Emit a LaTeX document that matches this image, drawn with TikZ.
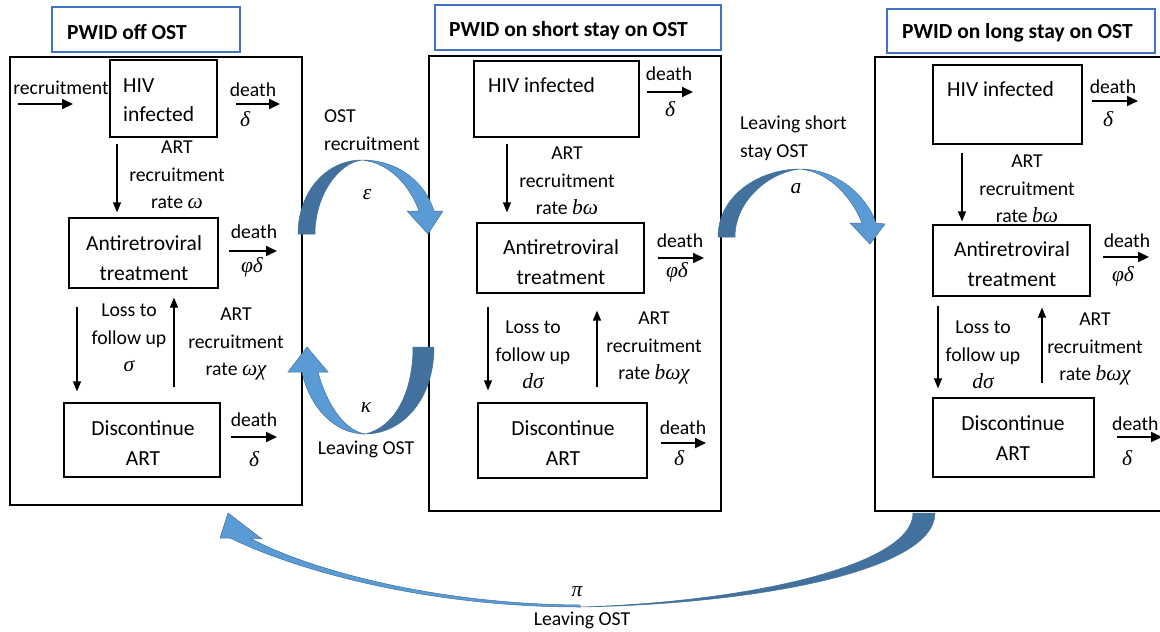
\documentclass[tikz,border=0pt]{standalone}
\usepackage{fontspec}
\setmainfont{Carlito}
\newfontfamily\grkfont{Liberation Serif}
\usetikzlibrary{arrows.meta}
\definecolor{tblue}{HTML}{4472C4}
\definecolor{bdark}{HTML}{41719C}
\definecolor{blight}{HTML}{5B9BD5}
\newcommand\lblfont{\fontsize{19.7}{27.5}\selectfont}
\newcommand\boxfont{\fontsize{21.5}{29.5}\selectfont}
\newcommand\ttlfont{\fontsize{21.5}{26}\selectfont\bfseries}
\newcommand\gk[1]{{\grkfont\itshape\fontsize{21.5}{27.5}\selectfont #1}}
\begin{document}
\begin{tikzpicture}[x=1pt,y=-1pt,
  panel/.style={draw, line width=2pt, inner sep=0pt},
  titlebox/.style={draw=tblue, line width=2.5pt, inner sep=0pt},
  cbox/.style={draw, line width=1.2pt, inner sep=0pt},
  lbl/.style={font=\lblfont, align=center, inner sep=0pt},
  boxtxt/.style={font=\boxfont, align=center, inner sep=0pt},
  ttl/.style={font=\ttlfont, inner sep=0pt, anchor=west},
  thinarr/.style={line width=1.2pt, -{Triangle[length=10pt,width=8pt]}},
  thickarr/.style={line width=2pt, -{Triangle[length=11pt,width=10pt]}},
  darkpart/.style={fill=bdark, draw=bdark, line width=0.5pt},
  lightpart/.style={fill=blight, draw=bdark, line width=0.5pt},
]
\useasboundingbox (0,0) rectangle (1160,632);

% ---------- panels and titles ----------
\node[panel, minimum width=292pt, minimum height=448pt] (p1) at (156,281) {};
\node[panel, minimum width=292pt, minimum height=455pt] (p2) at (575,283.5) {};
\node[panel, minimum width=300pt, minimum height=454pt] (p3) at (1025,284) {};
\node[titlebox, fill=white, minimum width=188pt, minimum height=45pt] (t1) at (146,29.5) {};
\node[titlebox, fill=white, minimum width=286pt, minimum height=45pt] (t2) at (578,27.5) {};
\node[titlebox, fill=white, minimum width=268pt, minimum height=44pt] (t3) at (1021,31) {};
\node[ttl] (t1t) at (67,32) {PWID off OST};
\node[ttl] (t2t) at (449,31) {PWID on short stay on OST};
\node[ttl] (t3t) at (902,33) {PWID on long stay on OST};

% ---------- panel 1 ----------
\node[cbox, minimum width=107pt, minimum height=77pt] (h1) at (163.5,98.5) {};
\node[cbox, minimum width=149pt, minimum height=70pt] (a1) at (143.5,253) {};
\node[cbox, minimum width=156pt, minimum height=74pt] (c1) at (142,440) {};
\node[boxtxt, align=left, anchor=west] (h1t) at (123,100) {HIV\\infected};
\node[boxtxt] (a1t) at (144,258) {Antiretroviral\\treatment};
\node[boxtxt] (c1t) at (143,443) {Discontinue\\ART};

\node[lbl] (rec1) at (61,88) {recruitment};
\coordinate (r1s) at (18,104); \coordinate (r1e) at (73,104);
\draw[thickarr] (r1s) -- (r1e);

\node[lbl] (dh1) at (253,90) {death};
\coordinate (dh1s) at (236,104); \coordinate (dh1e) at (280,104);
\draw[thickarr] (dh1s) -- (dh1e);
\node[lbl] (dh1r) at (245,119) {\gk{δ}};

\node[lbl] (da1) at (254,232) {death};
\coordinate (da1s) at (229,251); \coordinate (da1e) at (277,251);
\draw[thickarr] (da1s) -- (da1e);
\node[lbl] (da1r) at (252,267) {\gk{φδ}};

\node[lbl] (dc1) at (254,420) {death};
\coordinate (dc1s) at (231,437); \coordinate (dc1e) at (277,437);
\draw[thickarr] (dc1s) -- (dc1e);
\node[lbl] (dc1r) at (254,459) {\gk{δ}};

\coordinate (x1a) at (117,0); \coordinate (x1b) at (77,0); \coordinate (x1c) at (174,0);
\draw[thinarr, shorten <=6pt, shorten >=5pt] (h1.south -| x1a) -- (a1.north -| x1a);
\draw[thinarr, shorten <=18pt, shorten >=11pt] (a1.south -| x1b) -- (c1.north -| x1b);
\draw[thinarr, shorten <=15pt, shorten >=9pt] (c1.north -| x1c) -- (a1.south -| x1c);
\node[lbl] (art1) at (177,175) {ART\\recruitment\\rate \gk{ω}};
\node[lbl] (loss1) at (129,338) {Loss to\\follow up\\\gk{σ}};
\node[lbl] (art1b) at (236,344) {ART\\recruitment\\rate \gk{ωχ}};

% ---------- panel 2 ----------
\node[cbox, minimum width=165pt, minimum height=76pt] (h2) at (556.5,99) {};
\node[cbox, minimum width=167pt, minimum height=70pt] (a2) at (560.5,258) {};
\node[cbox, minimum width=169pt, minimum height=75pt] (c2) at (562.5,440.5) {};
\node[boxtxt, anchor=west] (h2t) at (488,85) {HIV infected};
\node[boxtxt] (a2t) at (561,262) {Antiretroviral\\treatment};
\node[boxtxt] (c2t) at (563,443) {Discontinue\\ART};

\node[lbl] (dh2) at (669,74) {death};
\coordinate (dh2s) at (647,92); \coordinate (dh2e) at (693,92);
\draw[thickarr] (dh2s) -- (dh2e);
\node[lbl] (dh2r) at (670,109) {\gk{δ}};

\node[lbl] (da2) at (680,241) {death};
\coordinate (da2s) at (658,258); \coordinate (da2e) at (704,258);
\draw[thickarr] (da2s) -- (da2e);
\node[lbl] (da2r) at (677,272) {\gk{φδ}};

\node[lbl] (dc2) at (683,428) {death};
\coordinate (dc2s) at (661,443); \coordinate (dc2e) at (706,443);
\draw[thickarr] (dc2s) -- (dc2e);
\node[lbl] (dc2r) at (679,458) {\gk{δ}};

\coordinate (x2a) at (507,0); \coordinate (x2b) at (488,0); \coordinate (x2c) at (597,0);
\draw[thinarr, shorten <=6pt, shorten >=10pt] (h2.south -| x2a) -- (a2.north -| x2a);
\draw[thinarr, shorten <=13pt, shorten >=12pt] (a2.south -| x2b) -- (c2.north -| x2b);
\draw[thinarr, shorten <=15pt, shorten >=17pt] (c2.north -| x2c) -- (a2.south -| x2c);
\node[lbl] (art2) at (567,181) {ART\\recruitment\\rate \gk{bω}};
\node[lbl] (loss2) at (533,355) {Loss to\\follow up\\\gk{dσ}};
\node[lbl] (art2b) at (654,348) {ART\\recruitment\\rate \gk{bωχ}};

% ---------- panel 3 ----------
\node[cbox, minimum width=149pt, minimum height=79pt] (h3) at (1007.5,104.5) {};
\node[cbox, minimum width=157pt, minimum height=71pt] (a3) at (1011.5,260.5) {};
\node[cbox, minimum width=161pt, minimum height=79pt] (c3) at (1013.5,437.5) {};
\node[boxtxt, anchor=west] (h3t) at (947,89) {HIV infected};
\node[boxtxt] (a3t) at (1012,264) {Antiretroviral\\treatment};
\node[boxtxt] (c3t) at (1013,438) {Discontinue\\ART};

\node[lbl] (dh3) at (1113,87) {death};
\coordinate (dh3s) at (1092,101); \coordinate (dh3e) at (1138,101);
\draw[thickarr] (dh3s) -- (dh3e);
\node[lbl] (dh3r) at (1108,119) {\gk{δ}};

\node[lbl] (da3) at (1127,241) {death};
\coordinate (da3s) at (1103,257); \coordinate (da3e) at (1149,257);
\draw[thickarr] (da3s) -- (da3e);
\node[lbl] (da3r) at (1123,276) {\gk{φδ}};

\node[lbl, anchor=west] (dc3) at (1112,424) {death};
\coordinate (dc3s) at (1117,437); \coordinate (dc3e) at (1162,437);
\draw[thickarr] (dc3s) -- (dc3e);
\node[lbl] (dc3r) at (1127,458) {\gk{δ}};

\coordinate (x3a) at (962,0); \coordinate (x3b) at (938,0); \coordinate (x3c) at (1042,0);
\draw[thinarr, shorten <=8pt, shorten >=3pt] (h3.south -| x3a) -- (a3.north -| x3a);
\draw[thinarr, shorten <=9pt, shorten >=9pt] (a3.south -| x3b) -- (c3.north -| x3b);
\draw[thinarr, shorten <=14pt, shorten >=11pt] (c3.north -| x3c) -- (a3.south -| x3c);
\node[lbl] (art3) at (1027,189) {ART\\recruitment\\rate \gk{bω}};
\node[lbl] (loss3) at (983,355) {Loss to\\follow up\\\gk{dσ}};
\node[lbl] (art3b) at (1095,349) {ART\\recruitment\\rate \gk{bωχ}};

% ---------- blue curved block arrows ----------
% epsilon: OST recruitment
\path[darkpart] (298,234) .. controls (298,192) and (326,160) .. (362,160)
  .. controls (338,163) and (315,196) .. (315,234) -- cycle;
\path[lightpart] (362,160) .. controls (398,160) and (425,182) .. (434,211)
  -- (443,211) -- (428,234) -- (407,211) -- (419,211)
  .. controls (410,186) and (390,163) .. (362,160) -- cycle;
\node[lbl, align=left, anchor=west] (ostrec) at (324,130) {OST\\recruitment};
\node[lbl] (eps) at (367,195) {\gk{ε}};

% kappa: Leaving OST
\path[darkpart] (434,347) .. controls (434,400) and (402,434) .. (365,434)
  .. controls (393,428) and (413,395) .. (413,347) -- cycle;
\path[lightpart] (365,434) .. controls (334,434) and (309,406) .. (302,372)
  -- (288,372) -- (307,347) -- (328,372) -- (318,372)
  .. controls (326,402) and (343,430) .. (365,434) -- cycle;
\node[lbl] (kap) at (366,408) {\gk{κ}};
\node[lbl] (lost1) at (366,449) {Leaving OST};

% a: Leaving short stay OST
\path[darkpart] (718,237) .. controls (718,195) and (760,169) .. (800,169)
  .. controls (770,172) and (735,200) .. (735,237) -- cycle;
\path[lightpart] (800,169) .. controls (835,169) and (866,194) .. (876,223)
  -- (885,224) -- (870,244) -- (850,223) -- (862,223)
  .. controls (852,198) and (830,172) .. (800,169) -- cycle;
\node[lbl, align=left, anchor=west] (lshort) at (740,138) {Leaving short\\stay OST};
\node[lbl] (aa) at (796,189) {\gk{a}};

% pi: Leaving OST (long stay to off)
\path[darkpart] (935,513) .. controls (935,570) and (760,604) .. (580,607)
  .. controls (750,602) and (913,565) .. (913,513) -- cycle;
\path[lightpart] (580,607) .. controls (430,607) and (300,572) .. (230,538)
  -- (220,538) -- (228,513) -- (262,539) -- (250,538)
  .. controls (305,568) and (430,604) .. (580,605) -- cycle;
\node[lbl] (pp) at (577,592) {\gk{π}};
\node[lbl] (lost2) at (582,620) {Leaving OST};
\end{tikzpicture}
\end{document}
